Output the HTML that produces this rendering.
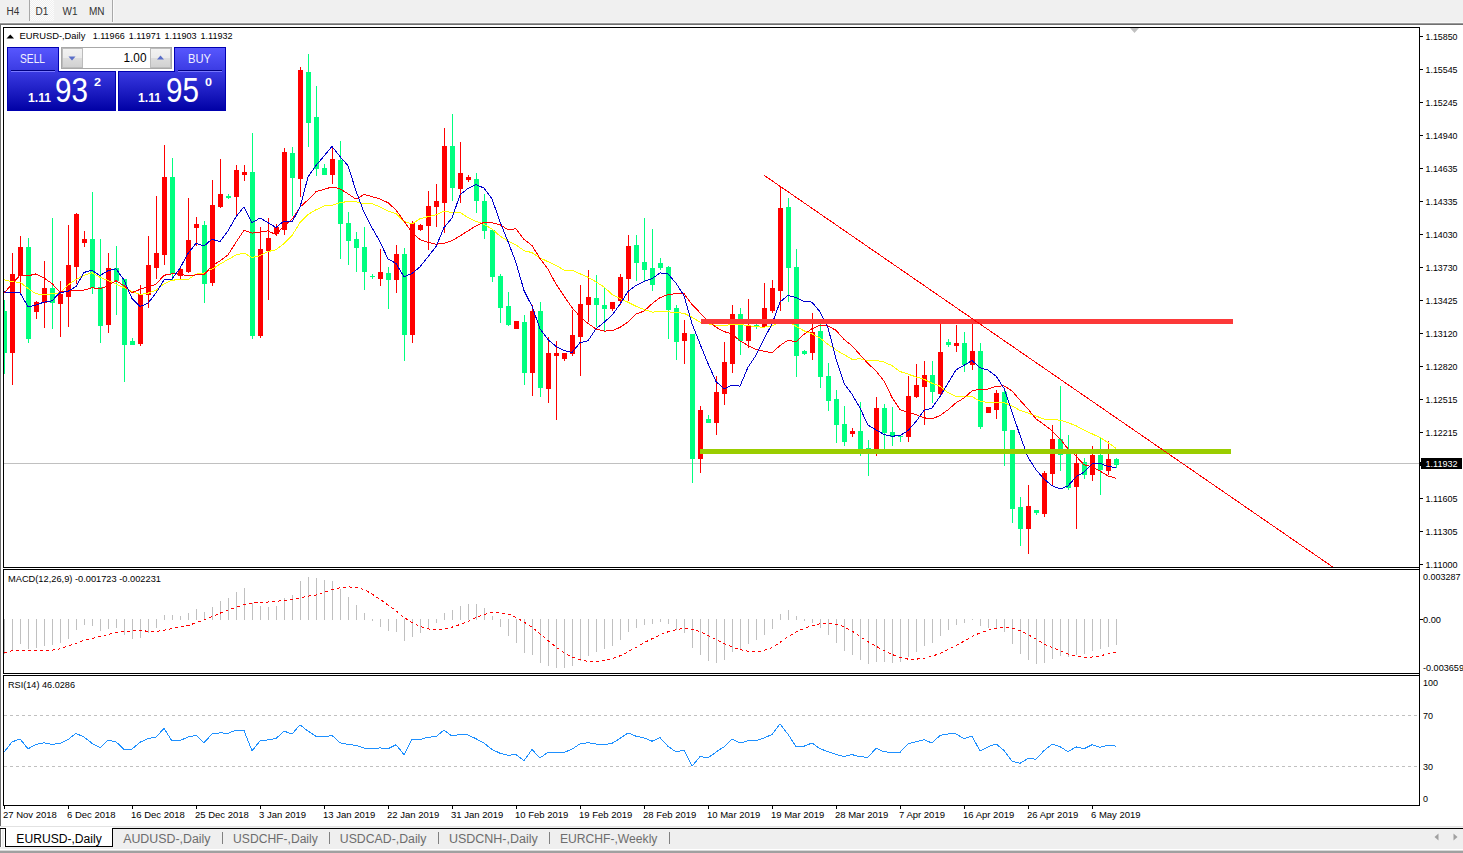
<!DOCTYPE html>
<html><head><meta charset="utf-8"><title>EURUSD Daily</title><style>
html,body{margin:0;padding:0;background:#fff;width:1463px;height:853px;overflow:hidden}
svg{display:block}
text{font-family:"Liberation Sans",sans-serif}
</style></head><body>
<svg width="1463" height="853" viewBox="0 0 1463 853" shape-rendering="crispEdges">
<rect x="0" y="0" width="1463" height="23" fill="#f0f0f0"/><defs><pattern id="dots" width="2" height="2" patternUnits="userSpaceOnUse"><rect width="2" height="2" fill="#f0f0f0"/><rect width="1" height="1" fill="#fcfcfc"/><rect x="1" y="1" width="1" height="1" fill="#fcfcfc"/></pattern><linearGradient id="gTab" x1="0" y1="0" x2="0" y2="1"><stop offset="0" stop-color="#5a5aff"/><stop offset="1" stop-color="#3a3ae6"/></linearGradient><linearGradient id="gBig" x1="0" y1="0" x2="0" y2="1"><stop offset="0" stop-color="#3b3be6"/><stop offset="1" stop-color="#0000aa"/></linearGradient><linearGradient id="gBtn" x1="0" y1="0" x2="0" y2="1"><stop offset="0" stop-color="#f2f2f2"/><stop offset="0.45" stop-color="#ebebeb"/><stop offset="0.5" stop-color="#dcdcdc"/><stop offset="1" stop-color="#d0d0d0"/></linearGradient></defs><rect x="30" y="0" width="24" height="21" fill="url(#dots)"/><rect x="29" y="0" width="1" height="21" fill="#a8a8a8"/><rect x="112" y="0" width="1" height="23" fill="#a8a8a8"/><rect x="113" y="0" width="1" height="23" fill="#fafafa"/><text x="6.5" y="15.2" font-size="10" fill="#333">H4</text><text x="35.5" y="15.2" font-size="10" fill="#333">D1</text><text x="62.5" y="15.2" font-size="10" fill="#333">W1</text><text x="89" y="15.2" font-size="10" fill="#333">MN</text><rect x="0" y="22" width="1463" height="1" fill="#f8f8f8"/><rect x="0" y="23" width="1463" height="1" fill="#9a9a9a"/><rect x="0" y="24" width="1463" height="1" fill="#707070"/><rect x="0" y="25" width="1" height="801" fill="#6f6f6f"/><rect x="4" y="463" width="1415" height="1" fill="#c0c0c0"/><svg x="4" y="28" width="1415" height="539" viewBox="4 28 1415 539" overflow="hidden"><rect x="4" y="300" width="1" height="74" fill="#00ff7f"/><rect x="2" y="311" width="5" height="42" fill="#00ff7f"/><rect x="12" y="253" width="1" height="132" fill="#ff0000"/><rect x="10" y="274" width="5" height="79" fill="#ff0000"/><rect x="20" y="236" width="1" height="57" fill="#ff0000"/><rect x="18" y="247" width="5" height="29" fill="#ff0000"/><rect x="28" y="238" width="1" height="105" fill="#00ff7f"/><rect x="26" y="247" width="5" height="92" fill="#00ff7f"/><rect x="36" y="301" width="1" height="18" fill="#ff0000"/><rect x="34" y="302" width="5" height="10" fill="#ff0000"/><rect x="44" y="261" width="1" height="67" fill="#ff0000"/><rect x="42" y="288" width="5" height="15" fill="#ff0000"/><rect x="52" y="218" width="1" height="111" fill="#00ff7f"/><rect x="50" y="288" width="5" height="15" fill="#00ff7f"/><rect x="60" y="281" width="1" height="56" fill="#ff0000"/><rect x="58" y="294" width="5" height="10" fill="#ff0000"/><rect x="68" y="225" width="1" height="102" fill="#ff0000"/><rect x="66" y="265" width="5" height="32" fill="#ff0000"/><rect x="76" y="213" width="1" height="71" fill="#ff0000"/><rect x="74" y="214" width="5" height="53" fill="#ff0000"/><rect x="84" y="231" width="1" height="16" fill="#ff0000"/><rect x="82" y="239" width="5" height="4" fill="#ff0000"/><rect x="92" y="192" width="1" height="102" fill="#00ff7f"/><rect x="90" y="239" width="5" height="49" fill="#00ff7f"/><rect x="100" y="239" width="1" height="104" fill="#00ff7f"/><rect x="98" y="287" width="5" height="39" fill="#00ff7f"/><rect x="108" y="253" width="1" height="80" fill="#ff0000"/><rect x="106" y="268" width="5" height="57" fill="#ff0000"/><rect x="116" y="246" width="1" height="69" fill="#00ff7f"/><rect x="114" y="268" width="5" height="13" fill="#00ff7f"/><rect x="124" y="279" width="1" height="103" fill="#00ff7f"/><rect x="122" y="279" width="5" height="66" fill="#00ff7f"/><rect x="132" y="338" width="1" height="7" fill="#00ff7f"/><rect x="130" y="341" width="5" height="4" fill="#00ff7f"/><rect x="140" y="285" width="1" height="61" fill="#ff0000"/><rect x="138" y="294" width="5" height="50" fill="#ff0000"/><rect x="148" y="236" width="1" height="72" fill="#ff0000"/><rect x="146" y="265" width="5" height="30" fill="#ff0000"/><rect x="156" y="196" width="1" height="83" fill="#ff0000"/><rect x="154" y="253" width="5" height="15" fill="#ff0000"/><rect x="164" y="145" width="1" height="120" fill="#ff0000"/><rect x="162" y="177" width="5" height="78" fill="#ff0000"/><rect x="172" y="158" width="1" height="122" fill="#00ff7f"/><rect x="170" y="177" width="5" height="97" fill="#00ff7f"/><rect x="180" y="267" width="1" height="12" fill="#ff0000"/><rect x="178" y="269" width="5" height="7" fill="#ff0000"/><rect x="188" y="198" width="1" height="75" fill="#ff0000"/><rect x="186" y="240" width="5" height="32" fill="#ff0000"/><rect x="196" y="217" width="1" height="29" fill="#ff0000"/><rect x="194" y="224" width="5" height="4" fill="#ff0000"/><rect x="204" y="221" width="1" height="82" fill="#00ff7f"/><rect x="202" y="225" width="5" height="59" fill="#00ff7f"/><rect x="212" y="180" width="1" height="106" fill="#ff0000"/><rect x="210" y="205" width="5" height="78" fill="#ff0000"/><rect x="220" y="159" width="1" height="49" fill="#ff0000"/><rect x="218" y="194" width="5" height="13" fill="#ff0000"/><rect x="228" y="194" width="1" height="5" fill="#00ff7f"/><rect x="226" y="196" width="5" height="2" fill="#00ff7f"/><rect x="236" y="165" width="1" height="51" fill="#ff0000"/><rect x="234" y="170" width="5" height="27" fill="#ff0000"/><rect x="244" y="165" width="1" height="16" fill="#ff0000"/><rect x="242" y="172" width="5" height="3" fill="#ff0000"/><rect x="252" y="133" width="1" height="206" fill="#00ff7f"/><rect x="250" y="172" width="5" height="164" fill="#00ff7f"/><rect x="260" y="227" width="1" height="111" fill="#ff0000"/><rect x="258" y="249" width="5" height="87" fill="#ff0000"/><rect x="268" y="218" width="1" height="82" fill="#ff0000"/><rect x="266" y="238" width="5" height="13" fill="#ff0000"/><rect x="276" y="224" width="1" height="12" fill="#ff0000"/><rect x="274" y="227" width="5" height="7" fill="#ff0000"/><rect x="284" y="148" width="1" height="87" fill="#ff0000"/><rect x="282" y="152" width="5" height="78" fill="#ff0000"/><rect x="292" y="147" width="1" height="69" fill="#00ff7f"/><rect x="290" y="153" width="5" height="25" fill="#00ff7f"/><rect x="300" y="67" width="1" height="130" fill="#ff0000"/><rect x="298" y="70" width="5" height="109" fill="#ff0000"/><rect x="308" y="54" width="1" height="93" fill="#00ff7f"/><rect x="306" y="72" width="5" height="51" fill="#00ff7f"/><rect x="316" y="86" width="1" height="90" fill="#00ff7f"/><rect x="314" y="117" width="5" height="52" fill="#00ff7f"/><rect x="324" y="164" width="1" height="11" fill="#00ff7f"/><rect x="322" y="168" width="5" height="7" fill="#00ff7f"/><rect x="332" y="148" width="1" height="36" fill="#ff0000"/><rect x="330" y="159" width="5" height="16" fill="#ff0000"/><rect x="340" y="141" width="1" height="118" fill="#00ff7f"/><rect x="338" y="160" width="5" height="64" fill="#00ff7f"/><rect x="348" y="212" width="1" height="53" fill="#00ff7f"/><rect x="346" y="223" width="5" height="18" fill="#00ff7f"/><rect x="356" y="232" width="1" height="40" fill="#00ff7f"/><rect x="354" y="239" width="5" height="9" fill="#00ff7f"/><rect x="364" y="227" width="1" height="63" fill="#00ff7f"/><rect x="362" y="247" width="5" height="25" fill="#00ff7f"/><rect x="372" y="274" width="1" height="5" fill="#00ff7f"/><rect x="370" y="276" width="5" height="1" fill="#00ff7f"/><rect x="380" y="249" width="1" height="37" fill="#ff0000"/><rect x="378" y="272" width="5" height="7" fill="#ff0000"/><rect x="388" y="267" width="1" height="42" fill="#00ff7f"/><rect x="386" y="273" width="5" height="7" fill="#00ff7f"/><rect x="396" y="245" width="1" height="48" fill="#ff0000"/><rect x="394" y="254" width="5" height="26" fill="#ff0000"/><rect x="404" y="248" width="1" height="113" fill="#00ff7f"/><rect x="402" y="254" width="5" height="81" fill="#00ff7f"/><rect x="412" y="221" width="1" height="122" fill="#ff0000"/><rect x="410" y="223" width="5" height="112" fill="#ff0000"/><rect x="420" y="224" width="1" height="7" fill="#ff0000"/><rect x="418" y="225" width="5" height="5" fill="#ff0000"/><rect x="428" y="191" width="1" height="59" fill="#ff0000"/><rect x="426" y="206" width="5" height="20" fill="#ff0000"/><rect x="436" y="184" width="1" height="43" fill="#ff0000"/><rect x="434" y="201" width="5" height="6" fill="#ff0000"/><rect x="444" y="128" width="1" height="105" fill="#ff0000"/><rect x="442" y="146" width="5" height="57" fill="#ff0000"/><rect x="452" y="114" width="1" height="87" fill="#00ff7f"/><rect x="450" y="146" width="5" height="42" fill="#00ff7f"/><rect x="460" y="142" width="1" height="61" fill="#ff0000"/><rect x="458" y="173" width="5" height="16" fill="#ff0000"/><rect x="468" y="175" width="1" height="7" fill="#ff0000"/><rect x="466" y="177" width="5" height="3" fill="#ff0000"/><rect x="476" y="173" width="1" height="40" fill="#00ff7f"/><rect x="474" y="179" width="5" height="22" fill="#00ff7f"/><rect x="484" y="194" width="1" height="45" fill="#00ff7f"/><rect x="482" y="201" width="5" height="30" fill="#00ff7f"/><rect x="492" y="229" width="1" height="53" fill="#00ff7f"/><rect x="490" y="230" width="5" height="47" fill="#00ff7f"/><rect x="500" y="274" width="1" height="49" fill="#00ff7f"/><rect x="498" y="276" width="5" height="32" fill="#00ff7f"/><rect x="508" y="292" width="1" height="34" fill="#00ff7f"/><rect x="506" y="306" width="5" height="19" fill="#00ff7f"/><rect x="516" y="321" width="1" height="8" fill="#ff0000"/><rect x="514" y="321" width="5" height="8" fill="#ff0000"/><rect x="524" y="315" width="1" height="70" fill="#00ff7f"/><rect x="522" y="322" width="5" height="51" fill="#00ff7f"/><rect x="532" y="305" width="1" height="91" fill="#ff0000"/><rect x="530" y="311" width="5" height="62" fill="#ff0000"/><rect x="540" y="302" width="1" height="95" fill="#00ff7f"/><rect x="538" y="311" width="5" height="77" fill="#00ff7f"/><rect x="548" y="337" width="1" height="66" fill="#ff0000"/><rect x="546" y="353" width="5" height="36" fill="#ff0000"/><rect x="556" y="341" width="1" height="79" fill="#ff0000"/><rect x="554" y="353" width="5" height="3" fill="#ff0000"/><rect x="564" y="353" width="1" height="8" fill="#ff0000"/><rect x="562" y="353" width="5" height="6" fill="#ff0000"/><rect x="572" y="310" width="1" height="46" fill="#ff0000"/><rect x="570" y="335" width="5" height="19" fill="#ff0000"/><rect x="580" y="285" width="1" height="91" fill="#ff0000"/><rect x="578" y="304" width="5" height="33" fill="#ff0000"/><rect x="588" y="270" width="1" height="52" fill="#ff0000"/><rect x="586" y="297" width="5" height="8" fill="#ff0000"/><rect x="596" y="275" width="1" height="52" fill="#00ff7f"/><rect x="594" y="298" width="5" height="7" fill="#00ff7f"/><rect x="604" y="287" width="1" height="44" fill="#00ff7f"/><rect x="602" y="305" width="5" height="4" fill="#00ff7f"/><rect x="612" y="302" width="1" height="9" fill="#ff0000"/><rect x="610" y="302" width="5" height="7" fill="#ff0000"/><rect x="620" y="274" width="1" height="31" fill="#ff0000"/><rect x="618" y="277" width="5" height="24" fill="#ff0000"/><rect x="628" y="235" width="1" height="66" fill="#ff0000"/><rect x="626" y="246" width="5" height="33" fill="#ff0000"/><rect x="636" y="235" width="1" height="46" fill="#00ff7f"/><rect x="634" y="245" width="5" height="18" fill="#00ff7f"/><rect x="644" y="218" width="1" height="63" fill="#00ff7f"/><rect x="642" y="262" width="5" height="8" fill="#00ff7f"/><rect x="652" y="229" width="1" height="62" fill="#00ff7f"/><rect x="650" y="268" width="5" height="17" fill="#00ff7f"/><rect x="660" y="258" width="1" height="12" fill="#00ff7f"/><rect x="658" y="263" width="5" height="5" fill="#00ff7f"/><rect x="668" y="266" width="1" height="73" fill="#00ff7f"/><rect x="666" y="267" width="5" height="43" fill="#00ff7f"/><rect x="676" y="305" width="1" height="55" fill="#00ff7f"/><rect x="674" y="308" width="5" height="34" fill="#00ff7f"/><rect x="684" y="320" width="1" height="44" fill="#ff0000"/><rect x="682" y="333" width="5" height="8" fill="#ff0000"/><rect x="692" y="334" width="1" height="149" fill="#00ff7f"/><rect x="690" y="334" width="5" height="125" fill="#00ff7f"/><rect x="700" y="406" width="1" height="67" fill="#ff0000"/><rect x="698" y="410" width="5" height="49" fill="#ff0000"/><rect x="708" y="415" width="1" height="8" fill="#00ff7f"/><rect x="706" y="419" width="5" height="4" fill="#00ff7f"/><rect x="716" y="376" width="1" height="59" fill="#ff0000"/><rect x="714" y="392" width="5" height="31" fill="#ff0000"/><rect x="724" y="342" width="1" height="63" fill="#ff0000"/><rect x="722" y="362" width="5" height="32" fill="#ff0000"/><rect x="732" y="305" width="1" height="68" fill="#ff0000"/><rect x="730" y="314" width="5" height="50" fill="#ff0000"/><rect x="740" y="308" width="1" height="47" fill="#00ff7f"/><rect x="738" y="314" width="5" height="27" fill="#00ff7f"/><rect x="748" y="299" width="1" height="49" fill="#ff0000"/><rect x="746" y="326" width="5" height="15" fill="#ff0000"/><rect x="756" y="320" width="1" height="9" fill="#00ff7f"/><rect x="754" y="325" width="5" height="2" fill="#00ff7f"/><rect x="764" y="283" width="1" height="44" fill="#ff0000"/><rect x="762" y="308" width="5" height="19" fill="#ff0000"/><rect x="772" y="280" width="1" height="33" fill="#ff0000"/><rect x="770" y="288" width="5" height="23" fill="#ff0000"/><rect x="780" y="186" width="1" height="125" fill="#ff0000"/><rect x="778" y="208" width="5" height="83" fill="#ff0000"/><rect x="788" y="198" width="1" height="104" fill="#00ff7f"/><rect x="786" y="207" width="5" height="61" fill="#00ff7f"/><rect x="796" y="249" width="1" height="128" fill="#00ff7f"/><rect x="794" y="267" width="5" height="89" fill="#00ff7f"/><rect x="804" y="350" width="1" height="5" fill="#00ff7f"/><rect x="802" y="351" width="5" height="3" fill="#00ff7f"/><rect x="812" y="313" width="1" height="47" fill="#ff0000"/><rect x="810" y="332" width="5" height="21" fill="#ff0000"/><rect x="820" y="323" width="1" height="65" fill="#00ff7f"/><rect x="818" y="331" width="5" height="46" fill="#00ff7f"/><rect x="828" y="363" width="1" height="48" fill="#00ff7f"/><rect x="826" y="376" width="5" height="25" fill="#00ff7f"/><rect x="836" y="390" width="1" height="53" fill="#00ff7f"/><rect x="834" y="399" width="5" height="26" fill="#00ff7f"/><rect x="844" y="406" width="1" height="40" fill="#00ff7f"/><rect x="842" y="424" width="5" height="18" fill="#00ff7f"/><rect x="852" y="428" width="1" height="9" fill="#ff0000"/><rect x="850" y="431" width="5" height="3" fill="#ff0000"/><rect x="860" y="402" width="1" height="54" fill="#00ff7f"/><rect x="858" y="431" width="5" height="19" fill="#00ff7f"/><rect x="868" y="440" width="1" height="36" fill="#00ff7f"/><rect x="866" y="448" width="5" height="5" fill="#00ff7f"/><rect x="876" y="397" width="1" height="59" fill="#ff0000"/><rect x="874" y="408" width="5" height="42" fill="#ff0000"/><rect x="884" y="404" width="1" height="46" fill="#00ff7f"/><rect x="882" y="408" width="5" height="25" fill="#00ff7f"/><rect x="892" y="407" width="1" height="39" fill="#00ff7f"/><rect x="890" y="432" width="5" height="5" fill="#00ff7f"/><rect x="900" y="435" width="1" height="7" fill="#00ff7f"/><rect x="898" y="436" width="5" height="1" fill="#00ff7f"/><rect x="908" y="376" width="1" height="66" fill="#ff0000"/><rect x="906" y="396" width="5" height="41" fill="#ff0000"/><rect x="916" y="364" width="1" height="34" fill="#ff0000"/><rect x="914" y="385" width="5" height="12" fill="#ff0000"/><rect x="924" y="361" width="1" height="64" fill="#ff0000"/><rect x="922" y="375" width="5" height="12" fill="#ff0000"/><rect x="932" y="361" width="1" height="42" fill="#00ff7f"/><rect x="930" y="375" width="5" height="17" fill="#00ff7f"/><rect x="940" y="320" width="1" height="76" fill="#ff0000"/><rect x="938" y="352" width="5" height="42" fill="#ff0000"/><rect x="948" y="339" width="1" height="8" fill="#00ff7f"/><rect x="946" y="342" width="5" height="3" fill="#00ff7f"/><rect x="956" y="325" width="1" height="27" fill="#ff0000"/><rect x="954" y="343" width="5" height="3" fill="#ff0000"/><rect x="964" y="332" width="1" height="40" fill="#00ff7f"/><rect x="962" y="343" width="5" height="22" fill="#00ff7f"/><rect x="972" y="320" width="1" height="50" fill="#ff0000"/><rect x="970" y="351" width="5" height="14" fill="#ff0000"/><rect x="980" y="343" width="1" height="86" fill="#00ff7f"/><rect x="978" y="351" width="5" height="76" fill="#00ff7f"/><rect x="988" y="407" width="1" height="6" fill="#ff0000"/><rect x="986" y="407" width="5" height="6" fill="#ff0000"/><rect x="996" y="390" width="1" height="29" fill="#ff0000"/><rect x="994" y="393" width="5" height="17" fill="#ff0000"/><rect x="1004" y="390" width="1" height="76" fill="#00ff7f"/><rect x="1002" y="392" width="5" height="39" fill="#00ff7f"/><rect x="1012" y="430" width="1" height="93" fill="#00ff7f"/><rect x="1010" y="430" width="5" height="79" fill="#00ff7f"/><rect x="1020" y="497" width="1" height="49" fill="#00ff7f"/><rect x="1018" y="507" width="5" height="22" fill="#00ff7f"/><rect x="1028" y="485" width="1" height="69" fill="#ff0000"/><rect x="1026" y="506" width="5" height="23" fill="#ff0000"/><rect x="1036" y="510" width="1" height="5" fill="#00ff7f"/><rect x="1034" y="510" width="5" height="3" fill="#00ff7f"/><rect x="1044" y="471" width="1" height="46" fill="#ff0000"/><rect x="1042" y="473" width="5" height="41" fill="#ff0000"/><rect x="1052" y="425" width="1" height="60" fill="#ff0000"/><rect x="1050" y="439" width="5" height="35" fill="#ff0000"/><rect x="1060" y="386" width="1" height="85" fill="#00ff7f"/><rect x="1058" y="439" width="5" height="16" fill="#00ff7f"/><rect x="1068" y="435" width="1" height="55" fill="#00ff7f"/><rect x="1066" y="452" width="5" height="36" fill="#00ff7f"/><rect x="1076" y="454" width="1" height="75" fill="#ff0000"/><rect x="1074" y="463" width="5" height="24" fill="#ff0000"/><rect x="1084" y="458" width="1" height="21" fill="#00ff7f"/><rect x="1082" y="462" width="5" height="13" fill="#00ff7f"/><rect x="1092" y="446" width="1" height="35" fill="#ff0000"/><rect x="1090" y="455" width="5" height="20" fill="#ff0000"/><rect x="1100" y="438" width="1" height="57" fill="#00ff7f"/><rect x="1098" y="455" width="5" height="15" fill="#00ff7f"/><rect x="1108" y="441" width="1" height="34" fill="#ff0000"/><rect x="1106" y="459" width="5" height="12" fill="#ff0000"/><rect x="1116" y="458" width="1" height="10" fill="#00ff7f"/><rect x="1114" y="459" width="5" height="6" fill="#00ff7f"/><polyline points="4,279.8 12,281.9 20,282.1 28,288.5 36,293.8 44,294.9 52,293.8 60,292.8 68,285.0 76,279.4 84,275.2 92,272.7 100,277.3 108,280.5 116,284.0 124,287.7 132,291.5 140,294.4 148,293.2 156,290.3 164,283.8 172,280.1 180,279.8 188,279.5 196,274.1 204,273.2 212,269.2 220,264.1 228,259.5 236,255.0 244,253.0 252,257.5 260,255.7 268,251.6 276,249.7 284,243.6 292,235.6 300,222.6 308,214.4 316,209.8 324,206.0 332,205.2 340,202.8 348,201.4 356,201.7 364,204.0 372,203.7 380,206.9 388,210.9 396,213.7 404,221.5 412,223.9 420,218.7 428,216.6 436,214.8 444,211.0 452,212.6 460,212.5 468,217.5 476,221.3 484,224.2 492,229.1 500,236.1 508,240.9 516,244.8 524,250.7 532,252.6 540,257.9 548,261.7 556,265.3 564,270.0 572,270.0 580,273.8 588,277.2 596,281.9 604,287.0 612,294.4 620,298.7 628,302.2 636,306.2 644,309.5 652,312.1 660,311.7 668,311.8 676,312.6 684,313.2 692,317.3 700,322.0 708,323.7 716,325.6 724,326.0 732,324.2 740,324.4 748,325.5 756,326.9 764,327.1 772,326.1 780,321.7 788,321.2 796,326.4 804,330.8 812,333.7 820,338.1 828,344.4 836,349.9 844,354.6 852,359.3 860,358.8 868,360.8 876,360.2 884,362.1 892,365.6 900,371.5 908,374.1 916,376.9 924,379.2 932,383.2 940,386.2 948,392.7 956,396.3 964,396.7 972,396.6 980,401.1 988,402.6 996,402.3 1004,402.6 1012,405.8 1020,410.4 1028,413.1 1036,416.0 1044,419.1 1052,419.4 1060,420.2 1068,422.6 1076,425.8 1084,430.0 1092,433.8 1100,437.5 1108,442.6 1116,448.3" fill="none" stroke="#ffff00" stroke-width="1" shape-rendering="crispEdges"/><polyline points="4,293.1 12,284.1 20,275.2 28,275.9 36,273.9 44,278.0 52,283.6 60,292.1 68,291.0 76,290.0 84,290.0 92,287.8 100,288.9 108,285.8 116,280.6 124,285.7 132,292.6 140,289.4 148,286.8 156,284.3 164,275.3 172,273.8 180,274.1 188,276.0 196,274.9 204,274.6 212,266.1 220,260.8 228,254.9 236,242.4 244,230.2 252,233.1 260,232.0 268,230.9 276,234.6 284,225.9 292,219.3 300,207.2 308,199.9 316,191.7 324,189.4 332,186.9 340,188.8 348,193.8 356,199.2 364,194.6 372,196.6 380,199.0 388,202.7 396,210.0 404,221.2 412,232.2 420,239.6 428,242.3 436,244.2 444,243.3 452,240.7 460,235.9 468,230.9 476,225.8 484,222.4 492,222.7 500,224.7 508,229.7 516,228.8 524,239.4 532,245.5 540,258.4 548,269.3 556,284.1 564,296.0 572,307.6 580,316.6 588,323.5 596,328.9 604,331.1 612,330.7 620,327.4 628,322.0 636,314.1 644,311.1 652,303.8 660,297.7 668,294.6 676,293.7 684,293.6 692,304.6 700,312.7 708,321.1 716,327.2 724,331.5 732,334.1 740,340.9 748,345.5 756,349.6 764,351.3 772,352.8 780,345.5 788,340.2 796,341.8 804,334.3 812,328.7 820,325.3 828,325.9 836,330.3 844,339.4 852,345.8 860,354.7 868,363.6 876,370.8 884,381.1 892,397.4 900,409.5 908,412.4 916,414.7 924,417.8 932,418.9 940,415.5 948,409.8 956,402.8 964,398.0 972,391.0 980,389.1 988,389.1 996,386.3 1004,385.8 1012,390.9 1020,400.3 1028,409.0 1036,418.8 1044,424.6 1052,430.8 1060,438.7 1068,448.9 1076,456.0 1084,464.8 1092,466.8 1100,471.2 1108,475.9 1116,478.3" fill="none" stroke="#ff0000" stroke-width="1" shape-rendering="crispEdges"/><polyline points="4,291.9 12,292.8 20,292.8 28,306.8 36,305.1 44,302.1 52,300.8 60,292.6 68,291.3 76,286.5 84,272.4 92,270.3 100,275.6 108,270.7 116,268.7 124,280.0 132,298.6 140,306.5 148,303.2 156,293.0 164,279.9 172,279.0 180,268.2 188,253.4 196,243.4 204,246.0 212,239.2 220,241.7 228,230.8 236,216.7 244,206.9 252,222.8 260,218.0 268,222.7 276,227.4 284,221.0 292,221.9 300,207.4 308,177.0 316,165.4 324,156.1 332,146.4 340,156.6 348,165.6 356,190.9 364,212.3 372,227.8 380,241.8 388,258.9 396,263.4 404,276.9 412,273.4 420,266.9 428,256.7 436,246.6 444,227.6 452,218.0 460,194.9 468,188.3 476,184.7 484,188.1 492,198.9 500,221.8 508,241.5 516,262.6 524,290.5 532,306.3 540,328.8 548,339.7 556,346.3 564,350.5 572,352.5 580,342.7 588,340.7 596,328.9 604,322.4 612,315.2 620,304.2 628,291.5 636,285.5 644,281.5 652,278.7 660,272.9 668,274.0 676,283.2 684,295.6 692,323.7 700,343.9 708,363.6 716,381.4 724,389.0 732,385.1 740,386.1 748,367.2 756,355.2 764,338.9 772,324.1 780,302.1 788,295.4 796,297.4 804,301.3 812,302.1 820,311.8 828,327.7 836,358.6 844,383.3 852,394.3 860,408.0 868,425.2 876,429.8 884,434.5 892,436.2 900,435.6 908,430.6 916,421.5 924,410.4 932,408.0 940,396.5 948,383.3 956,369.9 964,365.3 972,360.5 980,367.8 988,370.1 996,376.0 1004,388.3 1012,411.9 1020,435.3 1028,457.4 1036,469.7 1044,479.0 1052,485.6 1060,489.0 1068,486.0 1076,476.8 1084,472.1 1092,464.0 1100,463.4 1108,466.3 1116,467.7" fill="none" stroke="#0000cd" stroke-width="1" shape-rendering="crispEdges"/><rect x="701" y="319" width="532" height="5" fill="#fc3939"/><rect x="700" y="449" width="531" height="5" fill="#9acd00"/><line x1="764.4" y1="175.5" x2="1340" y2="572" stroke="#ff0000" stroke-width="1" shape-rendering="crispEdges"/></svg><polygon points="1130,28 1139,28 1134.5,33" fill="#c0c0c0" shape-rendering="auto"/><svg x="4" y="570" width="1415" height="103" viewBox="4 570 1415 103" overflow="hidden"><rect x="4" y="619" width="1" height="35" fill="#c0c0c0"/><rect x="12" y="619" width="1" height="32" fill="#c0c0c0"/><rect x="20" y="619" width="1" height="25" fill="#c0c0c0"/><rect x="28" y="619" width="1" height="30" fill="#c0c0c0"/><rect x="36" y="619" width="1" height="29" fill="#c0c0c0"/><rect x="44" y="619" width="1" height="27" fill="#c0c0c0"/><rect x="52" y="619" width="1" height="26" fill="#c0c0c0"/><rect x="60" y="619" width="1" height="24" fill="#c0c0c0"/><rect x="68" y="619" width="1" height="20" fill="#c0c0c0"/><rect x="76" y="619" width="1" height="11" fill="#c0c0c0"/><rect x="84" y="619" width="1" height="6" fill="#c0c0c0"/><rect x="92" y="619" width="1" height="7" fill="#c0c0c0"/><rect x="100" y="619" width="1" height="12" fill="#c0c0c0"/><rect x="108" y="619" width="1" height="10" fill="#c0c0c0"/><rect x="116" y="619" width="1" height="9" fill="#c0c0c0"/><rect x="124" y="619" width="1" height="16" fill="#c0c0c0"/><rect x="132" y="619" width="1" height="20" fill="#c0c0c0"/><rect x="140" y="619" width="1" height="19" fill="#c0c0c0"/><rect x="148" y="619" width="1" height="14" fill="#c0c0c0"/><rect x="156" y="619" width="1" height="9" fill="#c0c0c0"/><rect x="164" y="615" width="1" height="5" fill="#c0c0c0"/><rect x="172" y="615" width="1" height="5" fill="#c0c0c0"/><rect x="180" y="616" width="1" height="4" fill="#c0c0c0"/><rect x="188" y="613" width="1" height="7" fill="#c0c0c0"/><rect x="196" y="609" width="1" height="11" fill="#c0c0c0"/><rect x="204" y="612" width="1" height="8" fill="#c0c0c0"/><rect x="212" y="607" width="1" height="13" fill="#c0c0c0"/><rect x="220" y="601" width="1" height="19" fill="#c0c0c0"/><rect x="228" y="598" width="1" height="22" fill="#c0c0c0"/><rect x="236" y="592" width="1" height="28" fill="#c0c0c0"/><rect x="244" y="588" width="1" height="32" fill="#c0c0c0"/><rect x="252" y="603" width="1" height="17" fill="#c0c0c0"/><rect x="260" y="606" width="1" height="14" fill="#c0c0c0"/><rect x="268" y="607" width="1" height="13" fill="#c0c0c0"/><rect x="276" y="606" width="1" height="14" fill="#c0c0c0"/><rect x="284" y="598" width="1" height="22" fill="#c0c0c0"/><rect x="292" y="595" width="1" height="25" fill="#c0c0c0"/><rect x="300" y="581" width="1" height="39" fill="#c0c0c0"/><rect x="308" y="577" width="1" height="43" fill="#c0c0c0"/><rect x="316" y="578" width="1" height="42" fill="#c0c0c0"/><rect x="324" y="580" width="1" height="40" fill="#c0c0c0"/><rect x="332" y="581" width="1" height="39" fill="#c0c0c0"/><rect x="340" y="589" width="1" height="31" fill="#c0c0c0"/><rect x="348" y="597" width="1" height="23" fill="#c0c0c0"/><rect x="356" y="605" width="1" height="15" fill="#c0c0c0"/><rect x="364" y="613" width="1" height="7" fill="#c0c0c0"/><rect x="372" y="619" width="1" height="2" fill="#c0c0c0"/><rect x="380" y="619" width="1" height="8" fill="#c0c0c0"/><rect x="388" y="619" width="1" height="12" fill="#c0c0c0"/><rect x="396" y="619" width="1" height="13" fill="#c0c0c0"/><rect x="404" y="619" width="1" height="22" fill="#c0c0c0"/><rect x="412" y="619" width="1" height="18" fill="#c0c0c0"/><rect x="420" y="619" width="1" height="14" fill="#c0c0c0"/><rect x="428" y="619" width="1" height="9" fill="#c0c0c0"/><rect x="436" y="619" width="1" height="4" fill="#c0c0c0"/><rect x="444" y="613" width="1" height="7" fill="#c0c0c0"/><rect x="452" y="610" width="1" height="10" fill="#c0c0c0"/><rect x="460" y="606" width="1" height="14" fill="#c0c0c0"/><rect x="468" y="604" width="1" height="16" fill="#c0c0c0"/><rect x="476" y="604" width="1" height="16" fill="#c0c0c0"/><rect x="484" y="608" width="1" height="12" fill="#c0c0c0"/><rect x="492" y="616" width="1" height="4" fill="#c0c0c0"/><rect x="500" y="619" width="1" height="8" fill="#c0c0c0"/><rect x="508" y="619" width="1" height="17" fill="#c0c0c0"/><rect x="516" y="619" width="1" height="24" fill="#c0c0c0"/><rect x="524" y="619" width="1" height="34" fill="#c0c0c0"/><rect x="532" y="619" width="1" height="36" fill="#c0c0c0"/><rect x="540" y="619" width="1" height="44" fill="#c0c0c0"/><rect x="548" y="619" width="1" height="47" fill="#c0c0c0"/><rect x="556" y="619" width="1" height="49" fill="#c0c0c0"/><rect x="564" y="619" width="1" height="49" fill="#c0c0c0"/><rect x="572" y="619" width="1" height="47" fill="#c0c0c0"/><rect x="580" y="619" width="1" height="42" fill="#c0c0c0"/><rect x="588" y="619" width="1" height="37" fill="#c0c0c0"/><rect x="596" y="619" width="1" height="33" fill="#c0c0c0"/><rect x="604" y="619" width="1" height="30" fill="#c0c0c0"/><rect x="612" y="619" width="1" height="27" fill="#c0c0c0"/><rect x="620" y="619" width="1" height="21" fill="#c0c0c0"/><rect x="628" y="619" width="1" height="13" fill="#c0c0c0"/><rect x="636" y="619" width="1" height="9" fill="#c0c0c0"/><rect x="644" y="619" width="1" height="6" fill="#c0c0c0"/><rect x="652" y="619" width="1" height="5" fill="#c0c0c0"/><rect x="660" y="619" width="1" height="3" fill="#c0c0c0"/><rect x="668" y="619" width="1" height="5" fill="#c0c0c0"/><rect x="676" y="619" width="1" height="11" fill="#c0c0c0"/><rect x="684" y="619" width="1" height="14" fill="#c0c0c0"/><rect x="692" y="619" width="1" height="29" fill="#c0c0c0"/><rect x="700" y="619" width="1" height="36" fill="#c0c0c0"/><rect x="708" y="619" width="1" height="42" fill="#c0c0c0"/><rect x="716" y="619" width="1" height="44" fill="#c0c0c0"/><rect x="724" y="619" width="1" height="41" fill="#c0c0c0"/><rect x="732" y="619" width="1" height="33" fill="#c0c0c0"/><rect x="740" y="619" width="1" height="30" fill="#c0c0c0"/><rect x="748" y="619" width="1" height="25" fill="#c0c0c0"/><rect x="756" y="619" width="1" height="21" fill="#c0c0c0"/><rect x="764" y="619" width="1" height="16" fill="#c0c0c0"/><rect x="772" y="619" width="1" height="10" fill="#c0c0c0"/><rect x="780" y="614" width="1" height="6" fill="#c0c0c0"/><rect x="788" y="610" width="1" height="10" fill="#c0c0c0"/><rect x="796" y="616" width="1" height="4" fill="#c0c0c0"/><rect x="804" y="619" width="1" height="2" fill="#c0c0c0"/><rect x="812" y="619" width="1" height="4" fill="#c0c0c0"/><rect x="820" y="619" width="1" height="9" fill="#c0c0c0"/><rect x="828" y="619" width="1" height="16" fill="#c0c0c0"/><rect x="836" y="619" width="1" height="24" fill="#c0c0c0"/><rect x="844" y="619" width="1" height="32" fill="#c0c0c0"/><rect x="852" y="619" width="1" height="36" fill="#c0c0c0"/><rect x="860" y="619" width="1" height="41" fill="#c0c0c0"/><rect x="868" y="619" width="1" height="45" fill="#c0c0c0"/><rect x="876" y="619" width="1" height="43" fill="#c0c0c0"/><rect x="884" y="619" width="1" height="43" fill="#c0c0c0"/><rect x="892" y="619" width="1" height="44" fill="#c0c0c0"/><rect x="900" y="619" width="1" height="43" fill="#c0c0c0"/><rect x="908" y="619" width="1" height="38" fill="#c0c0c0"/><rect x="916" y="619" width="1" height="33" fill="#c0c0c0"/><rect x="924" y="619" width="1" height="27" fill="#c0c0c0"/><rect x="932" y="619" width="1" height="24" fill="#c0c0c0"/><rect x="940" y="619" width="1" height="17" fill="#c0c0c0"/><rect x="948" y="619" width="1" height="11" fill="#c0c0c0"/><rect x="956" y="619" width="1" height="6" fill="#c0c0c0"/><rect x="964" y="619" width="1" height="4" fill="#c0c0c0"/><rect x="972" y="619" width="1" height="1" fill="#c0c0c0"/><rect x="980" y="619" width="1" height="7" fill="#c0c0c0"/><rect x="988" y="619" width="1" height="9" fill="#c0c0c0"/><rect x="996" y="619" width="1" height="9" fill="#c0c0c0"/><rect x="1004" y="619" width="1" height="13" fill="#c0c0c0"/><rect x="1012" y="619" width="1" height="25" fill="#c0c0c0"/><rect x="1020" y="619" width="1" height="35" fill="#c0c0c0"/><rect x="1028" y="619" width="1" height="41" fill="#c0c0c0"/><rect x="1036" y="619" width="1" height="45" fill="#c0c0c0"/><rect x="1044" y="619" width="1" height="44" fill="#c0c0c0"/><rect x="1052" y="619" width="1" height="40" fill="#c0c0c0"/><rect x="1060" y="619" width="1" height="37" fill="#c0c0c0"/><rect x="1068" y="619" width="1" height="38" fill="#c0c0c0"/><rect x="1076" y="619" width="1" height="36" fill="#c0c0c0"/><rect x="1084" y="619" width="1" height="35" fill="#c0c0c0"/><rect x="1092" y="619" width="1" height="32" fill="#c0c0c0"/><rect x="1100" y="619" width="1" height="30" fill="#c0c0c0"/><rect x="1108" y="619" width="1" height="28" fill="#c0c0c0"/><rect x="1116" y="619" width="1" height="26" fill="#c0c0c0"/><polyline points="4,652.9 12,650.8 20,650.1 28,650.1 36,650.1 44,650.1 52,650.1 60,648.9 68,646.0 76,643.3 84,640.4 92,638.4 100,636.5 108,634.4 116,632.5 124,631.3 132,630.9 140,630.8 148,631.1 156,631.4 164,630.3 172,628.6 180,627.2 188,625.6 196,622.8 204,619.9 212,616.6 220,613.2 228,610.0 236,607.5 244,604.5 252,603.1 260,602.2 268,602.0 276,601.3 284,600.4 292,599.7 300,597.9 308,596.1 316,595.0 324,592.5 332,589.8 340,587.8 348,586.8 356,587.5 364,589.5 372,593.9 380,599.3 388,605.1 396,610.8 404,617.4 412,622.5 420,626.4 428,628.9 436,629.9 444,629.0 452,627.2 460,624.5 468,621.4 476,617.4 484,614.4 492,612.6 500,612.6 508,614.0 516,617.3 524,622.0 532,627.3 540,633.8 548,640.6 556,647.1 564,652.7 572,657.1 580,659.9 588,661.4 596,661.2 604,660.6 612,658.7 620,655.8 628,651.9 636,647.4 644,642.8 652,638.7 660,634.9 668,631.8 676,629.7 684,628.2 692,629.1 700,631.7 708,635.4 716,639.6 724,643.5 732,646.9 740,649.6 748,651.2 756,652.0 764,650.5 772,647.6 780,642.4 788,636.7 796,631.9 804,628.5 812,625.6 820,623.8 828,623.3 836,624.2 844,626.6 852,631.0 860,636.5 868,641.7 876,646.2 884,650.6 892,654.4 900,657.5 908,659.1 916,659.2 924,658.2 932,656.3 940,653.3 948,649.7 956,645.6 964,641.2 972,636.5 980,632.9 988,630.3 996,628.3 1004,627.1 1012,627.9 1020,630.6 1028,634.5 1036,639.1 1044,644.0 1052,647.6 1060,650.7 1068,653.9 1076,656.3 1084,657.4 1092,657.0 1100,655.9 1108,653.9 1116,651.9" fill="none" stroke="#ff0000" stroke-width="1" stroke-dasharray="3 3" shape-rendering="crispEdges"/></svg><svg x="4" y="676" width="1415" height="129" viewBox="4 676 1415 129" overflow="hidden"><line x1="4" y1="715.5" x2="1419" y2="715.5" stroke="#c0c0c0" stroke-dasharray="3 3"/><line x1="4" y1="766.5" x2="1419" y2="766.5" stroke="#c0c0c0" stroke-dasharray="3 3"/><polyline points="4,752.2 12,742.0 20,738.9 28,748.8 36,744.4 44,742.8 52,744.4 60,743.3 68,739.6 76,733.4 84,737.0 92,743.3 100,747.7 108,740.3 116,741.8 124,749.3 132,749.1 140,742.3 148,738.5 156,737.1 164,728.4 172,741.0 180,740.5 188,737.1 196,735.2 204,742.8 212,734.0 220,732.8 228,733.3 236,730.2 244,730.5 252,750.8 260,741.0 268,739.8 276,738.6 284,731.0 292,734.1 300,724.8 308,731.1 316,736.3 324,736.9 332,735.4 340,742.7 348,744.5 356,745.3 364,748.0 372,748.6 380,747.9 388,748.8 396,744.7 404,754.6 412,739.3 420,739.6 428,737.2 436,736.6 444,730.0 452,736.1 460,734.3 468,735.0 476,738.7 484,743.1 492,749.5 500,753.2 508,755.2 516,754.7 524,760.6 532,749.6 540,757.9 548,752.4 556,752.4 564,752.4 572,749.2 580,743.9 588,742.7 596,744.0 604,744.5 612,743.4 620,738.4 628,732.9 636,736.2 644,737.9 652,741.2 660,737.6 668,746.3 676,751.9 684,750.0 692,766.3 700,756.5 708,757.9 716,752.1 724,746.8 732,739.1 740,743.1 748,740.8 756,740.9 764,737.9 772,734.6 780,723.8 788,734.3 796,746.4 804,746.2 812,743.0 820,748.8 828,751.6 836,754.5 844,756.4 852,754.6 860,756.8 868,757.2 876,748.3 884,751.8 892,752.4 900,752.4 908,743.9 916,741.7 924,739.7 932,743.1 940,735.4 948,734.0 956,733.8 964,738.7 972,736.0 980,751.0 988,746.9 996,743.9 1004,750.5 1012,761.1 1020,763.3 1028,758.5 1036,759.2 1044,750.6 1052,744.2 1060,746.6 1068,751.7 1076,746.9 1084,748.7 1092,744.8 1100,747.3 1108,745.2 1116,746.1" fill="none" stroke="#1e90ff" stroke-width="1" shape-rendering="crispEdges"/></svg><rect x="3" y="27" width="1417" height="1" fill="#000"/><rect x="3" y="567" width="1417" height="1" fill="#000"/><rect x="3" y="27" width="1" height="541" fill="#000"/><rect x="3" y="569" width="1417" height="1" fill="#000"/><rect x="3" y="673" width="1417" height="1" fill="#000"/><rect x="3" y="569" width="1" height="105" fill="#000"/><rect x="3" y="675" width="1417" height="1" fill="#000"/><rect x="3" y="805" width="1417" height="1" fill="#000"/><rect x="3" y="675" width="1" height="131" fill="#000"/><rect x="1419" y="27" width="1" height="779" fill="#000"/><rect x="1420" y="36" width="3" height="1" fill="#000"/><text x="1425.5" y="39.8" font-size="9.5" fill="#000" textLength="32" lengthAdjust="spacingAndGlyphs">1.15850</text><rect x="1420" y="69" width="3" height="1" fill="#000"/><text x="1425.5" y="72.8" font-size="9.5" fill="#000" textLength="32" lengthAdjust="spacingAndGlyphs">1.15545</text><rect x="1420" y="102" width="3" height="1" fill="#000"/><text x="1425.5" y="105.8" font-size="9.5" fill="#000" textLength="32" lengthAdjust="spacingAndGlyphs">1.15245</text><rect x="1420" y="135" width="3" height="1" fill="#000"/><text x="1425.5" y="138.8" font-size="9.5" fill="#000" textLength="32" lengthAdjust="spacingAndGlyphs">1.14940</text><rect x="1420" y="168" width="3" height="1" fill="#000"/><text x="1425.5" y="171.8" font-size="9.5" fill="#000" textLength="32" lengthAdjust="spacingAndGlyphs">1.14635</text><rect x="1420" y="201" width="3" height="1" fill="#000"/><text x="1425.5" y="204.8" font-size="9.5" fill="#000" textLength="32" lengthAdjust="spacingAndGlyphs">1.14335</text><rect x="1420" y="234" width="3" height="1" fill="#000"/><text x="1425.5" y="237.8" font-size="9.5" fill="#000" textLength="32" lengthAdjust="spacingAndGlyphs">1.14030</text><rect x="1420" y="267" width="3" height="1" fill="#000"/><text x="1425.5" y="270.8" font-size="9.5" fill="#000" textLength="32" lengthAdjust="spacingAndGlyphs">1.13730</text><rect x="1420" y="300" width="3" height="1" fill="#000"/><text x="1425.5" y="303.8" font-size="9.5" fill="#000" textLength="32" lengthAdjust="spacingAndGlyphs">1.13425</text><rect x="1420" y="333" width="3" height="1" fill="#000"/><text x="1425.5" y="336.8" font-size="9.5" fill="#000" textLength="32" lengthAdjust="spacingAndGlyphs">1.13120</text><rect x="1420" y="366" width="3" height="1" fill="#000"/><text x="1425.5" y="369.8" font-size="9.5" fill="#000" textLength="32" lengthAdjust="spacingAndGlyphs">1.12820</text><rect x="1420" y="399" width="3" height="1" fill="#000"/><text x="1425.5" y="402.8" font-size="9.5" fill="#000" textLength="32" lengthAdjust="spacingAndGlyphs">1.12515</text><rect x="1420" y="432" width="3" height="1" fill="#000"/><text x="1425.5" y="435.8" font-size="9.5" fill="#000" textLength="32" lengthAdjust="spacingAndGlyphs">1.12215</text><rect x="1420" y="465" width="3" height="1" fill="#000"/><rect x="1420" y="498" width="3" height="1" fill="#000"/><text x="1425.5" y="501.8" font-size="9.5" fill="#000" textLength="32" lengthAdjust="spacingAndGlyphs">1.11605</text><rect x="1420" y="531" width="3" height="1" fill="#000"/><text x="1425.5" y="534.8" font-size="9.5" fill="#000" textLength="32" lengthAdjust="spacingAndGlyphs">1.11305</text><rect x="1420" y="564" width="3" height="1" fill="#000"/><text x="1425.5" y="567.8" font-size="9.5" fill="#000" textLength="32" lengthAdjust="spacingAndGlyphs">1.11000</text><rect x="1421" y="458" width="41" height="11" fill="#000"/><polygon points="1419,463.5 1421,461 1421,466" fill="#000"/><text x="1425.5" y="466.8" font-size="9.5" fill="#fff" textLength="32" lengthAdjust="spacingAndGlyphs">1.11932</text><rect x="1420" y="619" width="3" height="1" fill="#000"/><text x="1423" y="580" font-size="9.5" fill="#000" textLength="37.5" lengthAdjust="spacingAndGlyphs">0.003287</text><text x="1423" y="622.6" font-size="9.5" fill="#000" textLength="18" lengthAdjust="spacingAndGlyphs">0.00</text><text x="1423" y="670.5" font-size="9.5" fill="#000" textLength="41" lengthAdjust="spacingAndGlyphs">-0.003659</text><text x="1423" y="685.6" font-size="9.5" fill="#000" textLength="15" lengthAdjust="spacingAndGlyphs">100</text><text x="1423" y="719" font-size="9.5" fill="#000" textLength="10" lengthAdjust="spacingAndGlyphs">70</text><text x="1423" y="770" font-size="9.5" fill="#000" textLength="10" lengthAdjust="spacingAndGlyphs">30</text><text x="1423" y="802" font-size="9.5" fill="#000" textLength="5" lengthAdjust="spacingAndGlyphs">0</text><text x="19.4" y="39.3" font-size="9.5" fill="#000" textLength="66" lengthAdjust="spacingAndGlyphs">EURUSD-,Daily</text><text x="92.7" y="39.3" font-size="9.5" fill="#000" textLength="32" lengthAdjust="spacingAndGlyphs">1.11966</text><text x="128.8" y="39.3" font-size="9.5" fill="#000" textLength="32" lengthAdjust="spacingAndGlyphs">1.11971</text><text x="164.5" y="39.3" font-size="9.5" fill="#000" textLength="32" lengthAdjust="spacingAndGlyphs">1.11903</text><text x="200.5" y="39.3" font-size="9.5" fill="#000" textLength="32" lengthAdjust="spacingAndGlyphs">1.11932</text><polygon points="6.5,38.5 14,38.5 10.25,34.5" fill="#000" shape-rendering="auto"/><text x="8" y="582" font-size="9.5" fill="#000" textLength="153" lengthAdjust="spacingAndGlyphs">MACD(12,26,9) -0.001723 -0.002231</text><text x="8" y="687.8" font-size="9.5" fill="#000" textLength="67" lengthAdjust="spacingAndGlyphs">RSI(14) 46.0286</text><rect x="4" y="806" width="1" height="3" fill="#000"/><text x="3" y="818.3" font-size="9.5" fill="#000">27 Nov 2018</text><rect x="68" y="806" width="1" height="3" fill="#000"/><text x="67" y="818.3" font-size="9.5" fill="#000">6 Dec 2018</text><rect x="132" y="806" width="1" height="3" fill="#000"/><text x="131" y="818.3" font-size="9.5" fill="#000">16 Dec 2018</text><rect x="196" y="806" width="1" height="3" fill="#000"/><text x="195" y="818.3" font-size="9.5" fill="#000">25 Dec 2018</text><rect x="260" y="806" width="1" height="3" fill="#000"/><text x="259" y="818.3" font-size="9.5" fill="#000">3 Jan 2019</text><rect x="324" y="806" width="1" height="3" fill="#000"/><text x="323" y="818.3" font-size="9.5" fill="#000">13 Jan 2019</text><rect x="388" y="806" width="1" height="3" fill="#000"/><text x="387" y="818.3" font-size="9.5" fill="#000">22 Jan 2019</text><rect x="452" y="806" width="1" height="3" fill="#000"/><text x="451" y="818.3" font-size="9.5" fill="#000">31 Jan 2019</text><rect x="516" y="806" width="1" height="3" fill="#000"/><text x="515" y="818.3" font-size="9.5" fill="#000">10 Feb 2019</text><rect x="580" y="806" width="1" height="3" fill="#000"/><text x="579" y="818.3" font-size="9.5" fill="#000">19 Feb 2019</text><rect x="644" y="806" width="1" height="3" fill="#000"/><text x="643" y="818.3" font-size="9.5" fill="#000">28 Feb 2019</text><rect x="708" y="806" width="1" height="3" fill="#000"/><text x="707" y="818.3" font-size="9.5" fill="#000">10 Mar 2019</text><rect x="772" y="806" width="1" height="3" fill="#000"/><text x="771" y="818.3" font-size="9.5" fill="#000">19 Mar 2019</text><rect x="836" y="806" width="1" height="3" fill="#000"/><text x="835" y="818.3" font-size="9.5" fill="#000">28 Mar 2019</text><rect x="900" y="806" width="1" height="3" fill="#000"/><text x="899" y="818.3" font-size="9.5" fill="#000">7 Apr 2019</text><rect x="964" y="806" width="1" height="3" fill="#000"/><text x="963" y="818.3" font-size="9.5" fill="#000">16 Apr 2019</text><rect x="1028" y="806" width="1" height="3" fill="#000"/><text x="1027" y="818.3" font-size="9.5" fill="#000">26 Apr 2019</text><rect x="1092" y="806" width="1" height="3" fill="#000"/><text x="1091" y="818.3" font-size="9.5" fill="#000">6 May 2019</text><defs><linearGradient id="gPanel" gradientUnits="userSpaceOnUse" x1="0" y1="47" x2="0" y2="111"><stop offset="0" stop-color="#5858ff"/><stop offset="0.36" stop-color="#3c3ce4"/><stop offset="1" stop-color="#0000a4"/></linearGradient></defs><path d="M7.5,47.5 H58.5 V71.5 H115.5 V110.5 H7.5 Z" fill="url(#gPanel)" stroke="#0000b0" stroke-width="1"/><path d="M174.5,47.5 H225.5 V110.5 H118.5 V71.5 H174.5 Z" fill="url(#gPanel)" stroke="#0000b0" stroke-width="1"/><rect x="11" y="70" width="44" height="1" fill="#000080"/><rect x="11" y="71" width="44" height="1" fill="#7878ff"/><rect x="178" y="70" width="44" height="1" fill="#000080"/><rect x="178" y="71" width="44" height="1" fill="#7878ff"/><rect x="61.5" y="47.5" width="110" height="21" fill="#fff" stroke="#a8a8a8"/><rect x="63" y="49" width="19" height="19" fill="url(#gBtn)"/><rect x="62.5" y="48.5" width="20" height="19" fill="none" stroke="#bcbcbc"/><rect x="151" y="49" width="19" height="19" fill="url(#gBtn)"/><rect x="150.5" y="48.5" width="20" height="19" fill="none" stroke="#bcbcbc"/><polygon points="68.5,56.5 75.5,56.5 72,60.5" fill="#5a6ec8" shape-rendering="auto"/><polygon points="157,59.5 164,59.5 160.5,55.5" fill="#5a6ec8" shape-rendering="auto"/><text x="146.5" y="62.2" font-size="12" fill="#000" textLength="23" lengthAdjust="spacingAndGlyphs" text-anchor="end">1.00</text><text x="20" y="63.2" font-size="12" fill="#f0f0ff" textLength="25" lengthAdjust="spacingAndGlyphs">SELL</text><text x="188" y="63.2" font-size="12" fill="#f0f0ff" textLength="23" lengthAdjust="spacingAndGlyphs">BUY</text><text x="28" y="102" font-size="12" fill="#fff" textLength="23" lengthAdjust="spacingAndGlyphs" font-weight="bold">1.11</text><text x="55" y="102" font-size="34.5" fill="#fff" textLength="33" lengthAdjust="spacingAndGlyphs">93</text><text x="94" y="85.7" font-size="11" fill="#fff" textLength="7" lengthAdjust="spacingAndGlyphs" font-weight="bold">2</text><text x="138" y="102" font-size="12" fill="#fff" textLength="23" lengthAdjust="spacingAndGlyphs" font-weight="bold">1.11</text><text x="166" y="102" font-size="34.5" fill="#fff" textLength="33" lengthAdjust="spacingAndGlyphs">95</text><text x="205" y="85.7" font-size="11" fill="#fff" textLength="7" lengthAdjust="spacingAndGlyphs" font-weight="bold">0</text><rect x="0" y="826" width="1463" height="1" fill="#e2e2e2"/><rect x="0" y="827" width="1463" height="22" fill="#efefef"/><rect x="0" y="827" width="5" height="22" fill="#efefef"/><rect x="112" y="828" width="1351" height="1" fill="#000"/><rect x="5" y="827" width="108" height="20" fill="#fff"/><rect x="0" y="827" width="113" height="1" fill="#fff"/><rect x="0" y="828" width="6" height="1" fill="#000"/><rect x="0" y="829" width="1" height="18" fill="#6f6f6f"/><rect x="1" y="829" width="1" height="18" fill="#fff"/><rect x="4" y="829" width="1" height="18" fill="#fff"/><rect x="5" y="828" width="1" height="19" fill="#000"/><rect x="112" y="828" width="1" height="19" fill="#000"/><rect x="5" y="846" width="108" height="1" fill="#000"/><rect x="0" y="849" width="1463" height="1" fill="#ffffff"/><rect x="0" y="850" width="1463" height="1" fill="#d8d8d8"/><rect x="0" y="851" width="1463" height="2" fill="#a0a0a0"/><text x="16.3" y="842.6" font-size="12" fill="#000" textLength="85.5" lengthAdjust="spacingAndGlyphs">EURUSD-,Daily</text><text x="123.2" y="842.6" font-size="12" fill="#6d6d6d" textLength="87.3" lengthAdjust="spacingAndGlyphs">AUDUSD-,Daily</text><rect x="222" y="832" width="1" height="12" fill="#808080"/><text x="233.1" y="842.6" font-size="12" fill="#6d6d6d" textLength="84.7" lengthAdjust="spacingAndGlyphs">USDCHF-,Daily</text><rect x="329" y="832" width="1" height="12" fill="#808080"/><text x="339.8" y="842.6" font-size="12" fill="#6d6d6d" textLength="86.7" lengthAdjust="spacingAndGlyphs">USDCAD-,Daily</text><rect x="438" y="832" width="1" height="12" fill="#808080"/><text x="448.9" y="842.6" font-size="12" fill="#6d6d6d" textLength="88.9" lengthAdjust="spacingAndGlyphs">USDCNH-,Daily</text><rect x="549" y="832" width="1" height="12" fill="#808080"/><text x="559.9" y="842.6" font-size="12" fill="#6d6d6d" textLength="97.5" lengthAdjust="spacingAndGlyphs">EURCHF-,Weekly</text><rect x="669" y="832" width="1" height="12" fill="#808080"/><polygon points="1434.5,837 1438.5,833.5 1438.5,840.5" fill="#a0a0a0" shape-rendering="auto"/><polygon points="1457.5,837 1453.5,833.5 1453.5,840.5" fill="#a0a0a0" shape-rendering="auto"/>
</svg>
</body></html>
